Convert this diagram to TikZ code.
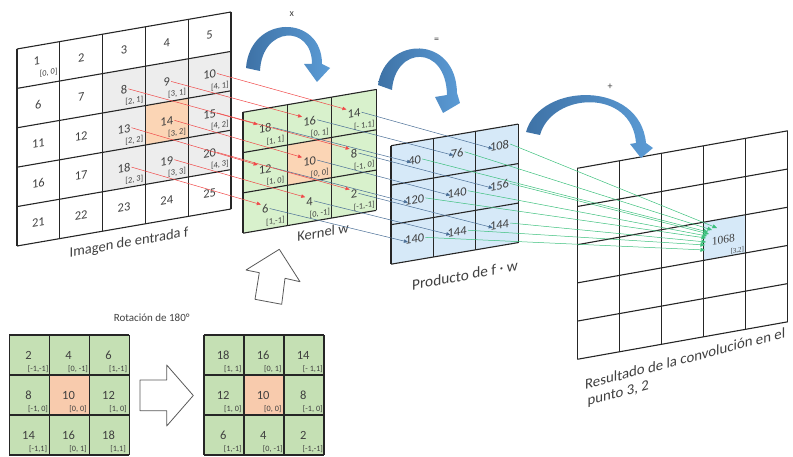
\documentclass[tikz,border=0pt]{standalone}
\usepackage{fontspec}
\setmainfont{Carlito}
\newfontfamily\serifnum{Liberation Serif}
\usetikzlibrary{arrows.meta}
\definecolor{txt}{HTML}{404040}
\definecolor{gridln}{HTML}{262626}
\definecolor{fgray}{HTML}{EDEDED}
\definecolor{korange}{HTML}{FBD5B5}
\definecolor{kgreen}{HTML}{D8F1CC}
\definecolor{bgreen}{HTML}{C5E0B4}
\definecolor{borange}{HTML}{F8CBAD}
\definecolor{pblue}{HTML}{D6E9F8}
\definecolor{rblue}{HTML}{D6E9F8}
\definecolor{redln}{HTML}{F04848}
\definecolor{blueln}{HTML}{4A6E96}
\definecolor{greenln}{HTML}{3CC07C}
\definecolor{arrdark}{HTML}{3E72A6}
\definecolor{arrlight}{HTML}{5B9BD5}
\definecolor{hollowln}{HTML}{595959}
\begin{document}
\begin{tikzpicture}[x=1pt,y=-1pt,
  gridline/.style={draw=gridln,line width=1.1pt},
  bgrid/.style={draw=gridln,line width=1.3pt},
  num/.style={text=txt,inner sep=1pt,font=\fontsize{12.5}{13}\selectfont},
  lab/.style={text=txt,inner sep=0.5pt,font=\fontsize{8.4}{9}\selectfont},
  blab/.style={text=txt,inner sep=0.5pt,font=\fontsize{8.2}{9}\selectfont},
  fnum/.style={num,yslant=0.173}, flab/.style={lab,yslant=0.173},
  knum/.style={num,yslant=0.171}, klab/.style={lab,yslant=0.171},
  pnum/.style={num,yslant=0.17},
  rnum/.style={text=txt,inner sep=1pt,font=\serifnum\fontsize{11.5}{12}\selectfont,yslant=0.178},
  rlab/.style={text=txt,inner sep=0.5pt,font=\serifnum\fontsize{7}{7}\selectfont,yslant=0.178},
  caption/.style={text=txt,inner sep=0pt,font=\fontsize{14.5}{16}\selectfont},
  bigcaption/.style={text=txt,inner sep=0pt,font=\fontsize{15.3}{16.5}\selectfont},
  rescaption/.style={text=txt,inner sep=0pt,font=\fontsize{14.8}{17}\selectfont},
  rotcap/.style={text=txt,inner sep=0pt,font=\fontsize{11}{13}\selectfont},
  op/.style={text=txt,inner sep=0pt,font=\fontsize{10}{11}\selectfont},
  conn/.style={line width=0.5pt},
  redarr/.style={conn,draw=redln,-{Triangle[length=4pt,width=3.5pt]}},
  bluearr/.style={conn,draw=blueln,-{Triangle[length=4pt,width=3.5pt]},shorten >=-4pt},
  greenarr/.style={conn,draw=greenln,-{Triangle[length=4.5pt,width=4pt]}},
  hollow/.style={draw=hollowln,fill=white,line width=0.8pt,line join=round},
  curvearr/.style={left color=arrdark,right color=arrlight}]
\useasboundingbox (0,0) rectangle (793,457);
\def\kernlist{0/0/18/{[1, 1]},1/0/16/{[0, 1]},2/0/14/{[- 1,1]},0/1/12/{[1, 0]},1/1/10/{[0, 0]},2/1/8/{[-1, 0]},0/2/6/{[1,-1]},1/2/4/{[0, -1]},2/2/2/{[-1,-1]}}

% ---------- input image f ----------
\begin{scope}[shift={(17,49)},x={(42.8pt,7.4pt)},y={(0pt,-39.4pt)}]
  \fill[fgray] (2,1)--(5,1)--(5,4)--(2,4)--cycle;
  \fill[korange] (3,2)--(4,2)--(4,3)--(3,3)--cycle;
  \foreach \k in {0,...,5}{\draw[gridline] (\k,0)--(\k,5); \draw[gridline] (0,\k)--(5,\k);}
  \foreach \j in {0,...,4}{\foreach \i in {0,...,4}{
    \pgfmathtruncatemacro{\v}{5*\j+\i+1}
    \ifnum\v=1
      \node[fnum] (f\i\j) at (\i+0.46,\j+0.38) {\v};
    \else
      \node[fnum] (f\i\j) at (\i+0.5,\j+0.5) {\v};
    \fi}}
  \node[flab] (fl00) at (0.74,0.74) {[0, 0]};
  \foreach \i in {2,3,4}{\foreach \j in {1,2,3}{
    \node[flab] (fl\i\j) at (\i+0.74,\j+0.83) {[\i, \j]};}}
\end{scope}

% ---------- kernel w ----------
\begin{scope}[shift={(243,112.3)},x={(44.4pt,7.6pt)},y={(0pt,-40.3pt)}]
  \fill[kgreen] (0,0)--(3,0)--(3,3)--(0,3)--cycle;
  \fill[korange] (1,1)--(2,1)--(2,2)--(1,2)--cycle;
  \foreach \k in {0,...,3}{\draw[gridline] (\k,0)--(\k,3); \draw[gridline] (0,\k)--(3,\k);}
  \foreach \i/\j/\v/\l in \kernlist{
    \node[knum] (k\i\j) at (\i+0.5,\j+0.5) {\v};
    \node[klab] (kl\i\j) at (\i+0.73,\j+0.84) {\l};}
\end{scope}

% ---------- product ----------
\begin{scope}[shift={(391,145.7)},x={(42.4pt,7.2pt)},y={(0pt,-39.5pt)}]
  \fill[pblue] (0,0)--(3,0)--(3,3)--(0,3)--cycle;
  \foreach \k in {0,...,3}{\draw[gridline] (\k,0)--(\k,3); \draw[gridline] (0,\k)--(3,\k);}
  \foreach \i/\j/\v in {0/0/40,1/0/76,2/0/108,0/1/120,1/1/140,2/1/156,0/2/140,1/2/144,2/2/144}{
    \node[pnum] (p\i\j) at (\i+0.56,\j+0.47) {\v};}
\end{scope}

% ---------- result ----------
\begin{scope}[shift={(577.3,168.3)},x={(42.1pt,7.5pt)},y={(0pt,-38.2pt)}]
  \fill[rblue] (3,2)--(4,2)--(4,3)--(3,3)--cycle;
  \foreach \k in {0,...,5}{\draw[gridline] (\k,0)--(\k,5); \draw[gridline] (0,\k)--(5,\k);}
  \node[rnum] (r) at (3.47,2.54) {1068};
  \node[rlab] (rl) at (3.8,2.9) {[3,2]};
\end{scope}

% ---------- bottom grids ----------
\begin{scope}[shift={(9.3,335)},x={(40pt,0pt)},y={(0pt,-40pt)}]
  \fill[bgreen] (0,0) rectangle (3,3);
  \fill[borange] (1,1) rectangle (2,2);
  \foreach \k in {0,...,3}{\draw[bgrid] (\k,0)--(\k,3); \draw[bgrid] (0,\k)--(3,\k);}
  \foreach \i/\j/\v/\l in {0/0/2/{[-1,-1]},1/0/4/{[0, -1]},2/0/6/{[1,-1]},0/1/8/{[-1, 0]},1/1/10/{[0, 0]},2/1/12/{[1, 0]},0/2/14/{[-1,1]},1/2/16/{[0, 1]},2/2/18/{[1,1]}}{
    \node[num] (a\i\j) at (\i+0.48,\j+0.5) {\v};
    \node[blab] (al\i\j) at (\i+0.72,\j+0.85) {\l};}
\end{scope}
\begin{scope}[shift={(204,335)},x={(40pt,0pt)},y={(0pt,-40pt)}]
  \fill[bgreen] (0,0) rectangle (3,3);
  \fill[borange] (1,1) rectangle (2,2);
  \foreach \k in {0,...,3}{\draw[bgrid] (\k,0)--(\k,3); \draw[bgrid] (0,\k)--(3,\k);}
  \foreach \i/\j/\v/\l in \kernlist{
    \node[num] (b\i\j) at (\i+0.48,\j+0.5) {\v};
    \node[blab] (bl\i\j) at (\i+0.72,\j+0.85) {\l};}
\end{scope}

% ---------- hollow arrows ----------
\draw[hollow] (279.3,249.3) -- (300,281.7) -- (285,278.3) -- (281.7,304.3) -- (255,299.3) -- (259.3,272.7) -- (246,270) -- cycle;
\draw[hollow] (140,380) -- (166.7,380) -- (166.7,365) -- (193.3,395.5) -- (166.7,426) -- (166.7,410.7) -- (140,410.7) -- cycle;

% ---------- curved arrows ----------
\shade[curvearr] (246,68) .. controls (250,14) and (322,14) .. (322,64) -- (330,68) -- (317,82) -- (304,64) -- (312,64) .. controls (312,24) and (262,26) .. (260,71) -- cycle;
\shade[curvearr] (378,85) .. controls (385,36) and (456,34) .. (457,93) -- (460,103) -- (443,113) -- (435,97) -- (447,95) .. controls (446,44) and (395,46) .. (392,90) -- cycle;
\shade[curvearr] (526,132) .. controls (540,82) and (640,80) .. (646,143) -- (653,148) -- (641,158) -- (630,144) -- (636,143) .. controls (632,88) and (552,92) .. (540,135) -- cycle;

% ---------- texts ----------
\node[caption,yslant=0.176] (capf) at (129,243) {Imagen de entrada f};
\node[caption,yslant=0.19] (capk) at (323,232) {Kernel w};
\node[bigcaption,yslant=0.19] (capp) at (465,275) {Producto de f · w};
\node[rescaption,yslant=0.26,anchor=north west,align=left] (capr) at (585,379) {Resultado de la convolución en el\\\hspace*{2.5pt}punto 3, 2};
\node[rotcap] (caprot) at (151.7,317.3) {Rotación de 180°};
\node[op] (opx) at (291.7,14) {x};
\node[op] (opeq) at (436.7,40.7) {=};
\node[op] (opplus) at (610,86.7) {+};

% ---------- green targets ----------
\coordinate (g00) at (708,232);
\coordinate (g10) at (712,230);
\coordinate (g20) at (717,228);
\coordinate (g01) at (706,238);
\coordinate (g11) at (707,236);
\coordinate (g21) at (709,234);
\coordinate (g02) at (705,250);
\coordinate (g12) at (705,245);
\coordinate (g22) at (706,242);

% ---------- connectors ----------
\foreach \i in {0,1,2}{\foreach \j in {0,1,2}{
  \pgfmathtruncatemacro{\fcol}{\i+2}
  \pgfmathtruncatemacro{\frow}{\j+1}
  \draw[redarr] (f\fcol\frow.east) -- (k\i\j.north west);
  \draw[bluearr] (k\i\j.east) -- (p\i\j.west);
  \draw[greenarr] (p\i\j.east) -- (g\i\j);
}}
\end{tikzpicture}
\end{document}
